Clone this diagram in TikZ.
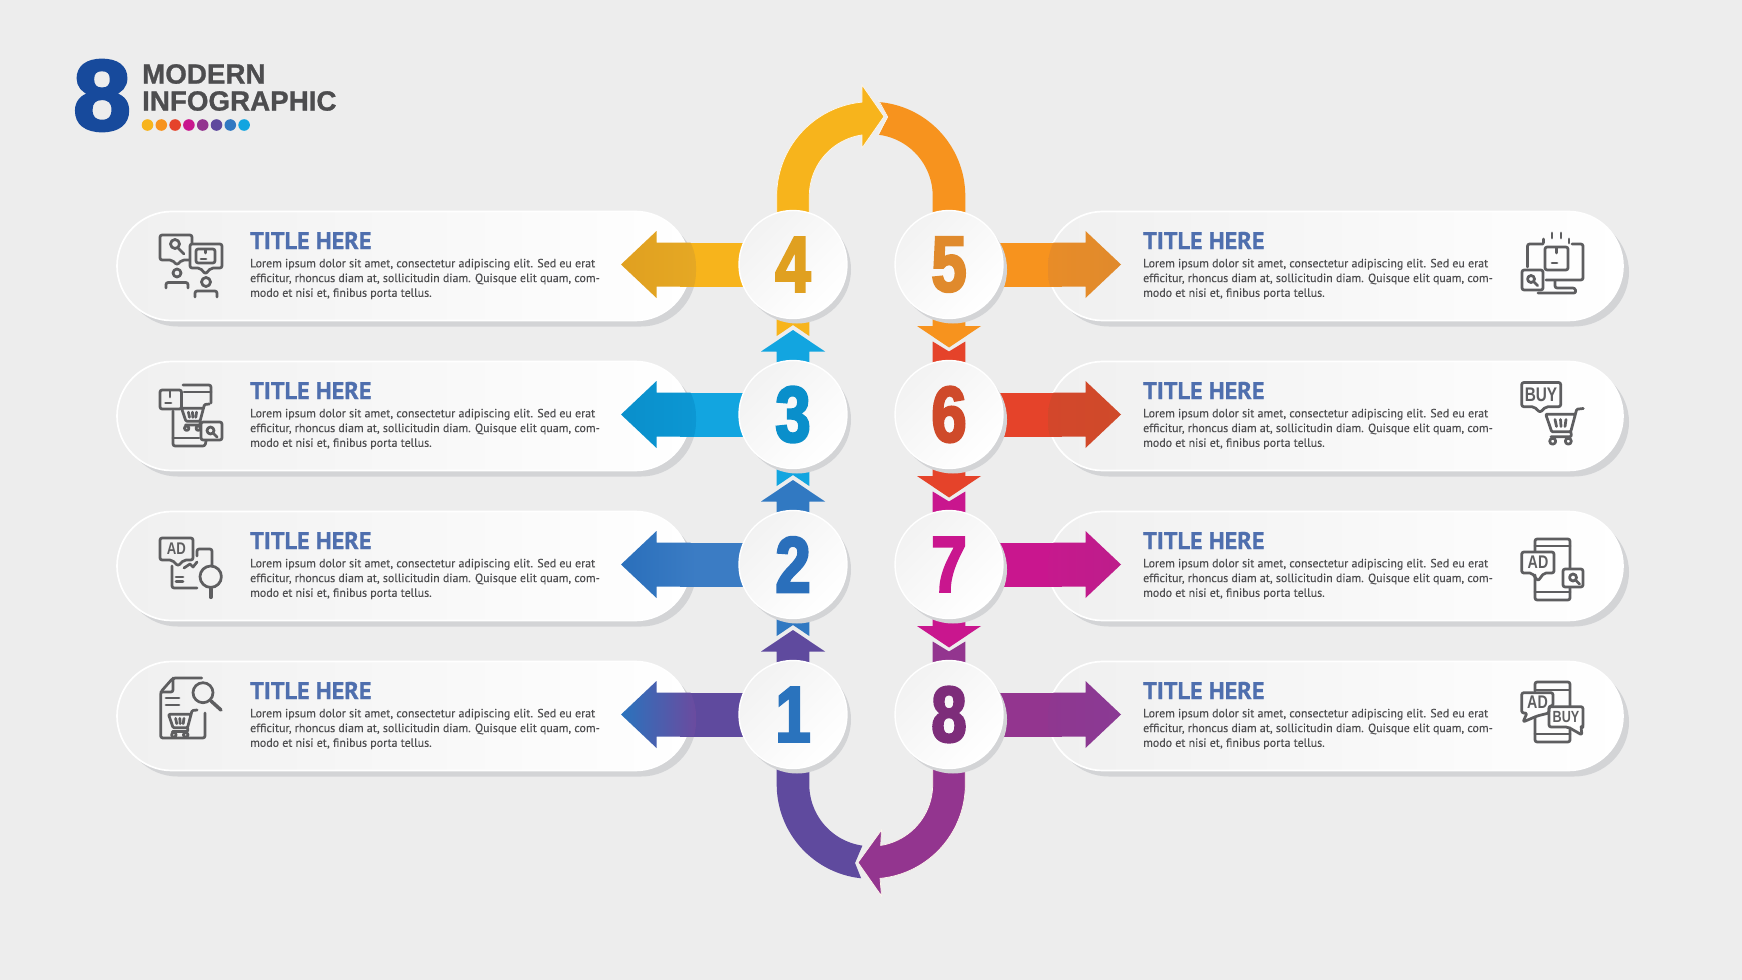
\documentclass[tikz,border=0pt]{standalone}
\usepackage{fontspec}
\setmainfont{PT Sans}[FakeBold=0.2]
\newfontfamily\titlefont[FakeBold=0.8]{PT Sans Bold}
\newfontfamily\logofont[FakeBold=1.0]{Liberation Sans Bold}
\newfontfamily\logoeightfont[FakeBold=3,FakeStretch=1.04]{Liberation Sans Bold}
\newfontfamily\numfont[FakeStretch=0.8,FakeBold=3.2]{Liberation Sans Bold}
\newfontfamily\icofont[FakeStretch=0.78]{Liberation Sans Bold}
\definecolor{cYel}{HTML}{F7B41C}
\definecolor{cOra}{HTML}{F7931E}
\definecolor{cRed}{HTML}{E5432A}
\definecolor{cMag}{HTML}{C9168E}
\definecolor{cPur}{HTML}{93358F}
\definecolor{cInd}{HTML}{5F4A9E}
\definecolor{cBlu}{HTML}{3179C2}
\definecolor{cCya}{HTML}{12A5E0}
\definecolor{cGray}{HTML}{5E5E60}
\definecolor{cShadow}{HTML}{D3D4D6}
\definecolor{cTitle}{HTML}{4F6FAE}
\definecolor{cBody}{HTML}{4D4D4F}
\definecolor{cLogo}{HTML}{174A9C}
\definecolor{cCream}{HTML}{FDF6EC}
\definecolor{tA}{HTML}{E0A020}\definecolor{iA}{HTML}{E5A824}
\definecolor{tB}{HTML}{0A8FCB}\definecolor{iB}{HTML}{0C97D3}
\definecolor{tC}{HTML}{2A6FBB}\definecolor{iC}{HTML}{3B7CC4}
\definecolor{tD}{HTML}{2A73BD}\definecolor{iD}{HTML}{6B4B9F}
\definecolor{tE}{HTML}{E08A2C}\definecolor{iE}{HTML}{E88C28}
\definecolor{tF}{HTML}{CF4A2A}\definecolor{iF}{HTML}{D3472B}
\definecolor{tG}{HTML}{BD1D8B}\definecolor{iG}{HTML}{C6198D}
\definecolor{tH}{HTML}{8A3A94}\definecolor{iH}{HTML}{8F3790}
\tikzset{
  ic/.style={draw=cGray,line width=3.9pt,line cap=round,line join=round,rounded corners=3pt},
  icnr/.style={draw=cGray,line width=3.9pt,line cap=round,line join=round},
  icotext/.style={text=cGray,inner sep=0pt,font=\icofont\fontsize{#1}{#1}\selectfont},
  cardtitle/.style={anchor=west,inner sep=0pt,text=cTitle,font=\titlefont\fontsize{34.5}{36}\selectfont},
  cardbody/.style={anchor=west,inner sep=0pt,align=left,text=cBody,font=\fontsize{17}{21}\selectfont},
  numcircle/.style={circle,minimum size=153.6pt,inner sep=0pt,draw=white,line width=2pt,
     top color=black!5!white,bottom color=white,shading angle=45,font=\numfont\fontsize{112}{112}\selectfont},
  outl/.style={draw=cCream,line width=2.2pt,line join=miter}
}
\newcommand\mycard[3]{% left x, right x, cy
  \fill[cShadow,rounded corners=78pt] (#1+6,#3-47) rectangle (#2+6,#3+62);
  \shadedraw[left color=black!6!white,right color=white,draw=white,line width=2.4pt,rounded corners=78pt]
     (#1,#3-53) rectangle (#2,#3+56);
}
\newcommand\leftarm[4]{% cy, shaft colour, tip colour, inner colour
  \fill[#2] (745,#1-22) -- (680,#1-22) -- (680,#1+22) -- (745,#1+22) -- cycle;
  \begin{scope}
    \clip[rounded corners=78pt] (116,#1-53) rectangle (696,#1+62);
    \shade[left color=#3,right color=#4] (696,#1-22) -- (656.5,#1-22) -- (656.5,#1-33.5) -- (621,#1) -- (656.5,#1+33.5) -- (656.5,#1+22) -- (696,#1+22) -- cycle;
  \end{scope}
}
\newcommand\rightarm[4]{%
  \fill[#2] (997,#1-22) -- (1062,#1-22) -- (1062,#1+22) -- (997,#1+22) -- cycle;
  \begin{scope}
    \clip[rounded corners=78pt] (1048,#1-53) rectangle (1630,#1+62);
    \shade[left color=#4,right color=#3] (1048,#1-22) -- (1085.5,#1-22) -- (1085.5,#1-33.5) -- (1121,#1) -- (1085.5,#1+33.5) -- (1085.5,#1+22) -- (1048,#1+22) -- cycle;
  \end{scope}
}
\newcommand\upstem[4]{%
  \fill[#3] (#1-16.3,#2+40) -- (#1-16.3,#2+71.5) -- (#1,#2+60.5) -- (#1+16.3,#2+71.5) -- (#1+16.3,#2+40) -- cycle;
  \fill[#4] (#1-16.3,#2+100) -- (#1-16.3,#2+87) -- (#1-32,#2+87) -- (#1,#2+65.5) -- (#1+32,#2+87) -- (#1+16.3,#2+87) -- (#1+16.3,#2+100) -- cycle;
}
\newcommand\downstem[4]{%
  \fill[#4] (#1-16.3,#2+110) -- (#1-16.3,#2+77) -- (#1,#2+87) -- (#1+16.3,#2+77) -- (#1+16.3,#2+110) -- cycle;
  \fill[#3] (#1-16.3,#2+40) -- (#1-16.3,#2+61.5) -- (#1-32,#2+61.5) -- (#1,#2+83) -- (#1+32,#2+61.5) -- (#1+16.3,#2+61.5) -- (#1+16.3,#2+40) -- cycle;
}
\newcommand\mycart[3]{% x y scale
  \begin{scope}[shift={(#1,#2)},scale=#3]
    \draw[ic,rounded corners=1.5pt] (38.3,0) -- (31.7,0.7) -- (25.7,23.3) -- (6.7,23.3) -- (0.7,5.7) -- (30,5.7);
    \draw[icnr] (10,11) -- (11.5,18) (15.5,11) -- (16,18) (21,11) -- (20,18);
    \draw[ic] (25.7,23.3) -- (26.7,28.3) -- (6,28.3);
    \draw[icnr] (7.7,32.7) circle[radius=3] (23.3,32.7) circle[radius=3];
  \end{scope}
}
\newcommand\mymag[3]{% x y r
  \draw[icnr] (#1,#2) circle[radius=#3] (#1+#3*0.72,#2+#3*0.72) -- (#1+#3*1.9,#2+#3*1.9);
}
\begin{document}
\begin{tikzpicture}[x=0.5mm,y=-0.5mm]
\useasboundingbox (0,0) rectangle (1742,980);
\fill[black!7!white] (0,0) rectangle (1742,980);

% logo
\node[anchor=west,inner sep=0pt,text=cLogo,font=\logoeightfont\fontsize{142}{142}\selectfont] (logoeight) at (73,95.5) {8};
\node[anchor=west,inner sep=0pt,text=cBody,font=\logofont\fontsize{39.5}{40}\selectfont] (logoa) at (142,74) {MODERN};
\node[anchor=west,inner sep=0pt,text=cBody,font=\logofont\fontsize{39.5}{40}\selectfont] (logob) at (142,101) {INFOGRAPHIC};
\foreach \i/\c in {0/cYel,1/cOra,2/cRed,3/cMag,4/cPur,5/cInd,6/cBlu,7/cCya}
  \fill[\c] (147.5+\i*13.8,125) circle[radius=5.8];

% cards
\foreach \cy in {264.5,414.5,564.5,714.5} {
  \mycard{117}{690}{\cy}
  \mycard{1048}{1623}{\cy}
  \node[cardtitle] at (250,\cy-24) {TITLE HERE};
  \node[cardbody] at (250,\cy+14.5) {Lorem ipsum dolor sit amet, consectetur adipiscing elit. Sed eu erat\\efficitur, rhoncus diam at, sollicitudin diam. Quisque elit quam, com-\\modo et nisi et, finibus porta tellus.};
  \node[cardtitle] at (1143,\cy-24) {TITLE HERE};
  \node[cardbody] at (1143,\cy+14.5) {Lorem ipsum dolor sit amet, consectetur adipiscing elit. Sed eu erat\\efficitur, rhoncus diam at, sollicitudin diam. Quisque elit quam, com-\\modo et nisi et, finibus porta tellus.};
}

% side arrows
\leftarm{264.5}{cYel}{tA}{iA}
\leftarm{414.5}{cCya}{tB}{iB}
\leftarm{564.5}{iC}{tC}{iC}
\leftarm{714.5}{cInd}{tD}{iD}
\rightarm{264.5}{cOra}{tE}{iE}
\rightarm{414.5}{cRed}{tF}{iF}
\rightarm{564.5}{cMag}{tG}{iG}
\rightarm{714.5}{cPur}{tH}{iH}

% top loop
\fill[cOra] (965.3,215) -- (965.3,196)
  -- plot[domain=0:85,samples=40] ({871+94.3*cos(\x)},{196-94.3*sin(\x)})
  -- (887.7,117)
  -- plot[domain=82.5:0,samples=40] ({871+61.7*cos(\x)},{196-61.7*sin(\x)})
  -- (932.7,215) -- cycle;
\draw[cCream,line width=1pt] (878.5,100) -- (887.7,117) -- (878.5,134);
\filldraw[fill=cYel,outl,line width=1pt] (776.7,215) -- (776.7,196)
  -- plot[domain=180:95.5,samples=40] ({871+94.3*cos(\x)},{196-94.3*sin(\x)})
  -- (862,85) -- (884,116.5) -- (862,148)
  -- plot[domain=98.4:180,samples=40] ({871+61.7*cos(\x)},{196-61.7*sin(\x)})
  -- (809.3,215) -- cycle;

% bottom loop
\fill[cInd] (776.7,760) -- (776.7,784.5)
  -- plot[domain=180:264,samples=40] ({871+94.3*cos(\x)},{784.5-94.3*sin(\x)})
  -- (855,863)
  -- plot[domain=262:180,samples=40] ({871+61.7*cos(\x)},{784.5-61.7*sin(\x)})
  -- (809.3,760) -- cycle;
\filldraw[fill=cPur,outl,line width=1pt] (965.3,760) -- (965.3,784.5)
  -- plot[domain=0:-84.5,samples=40] ({871+94.3*cos(\x)},{784.5-94.3*sin(\x)})
  -- (881.5,896) -- (858,862.5) -- (881.5,830)
  -- plot[domain=-81:0,samples=40] ({871+61.7*cos(\x)},{784.5-61.7*sin(\x)})
  -- (932.7,760) -- cycle;

% stems between circles
\upstem{793}{264.5}{cYel}{cCya}
\upstem{793}{414.5}{cCya}{cBlu}
\upstem{793}{564.5}{cBlu}{cInd}
\downstem{949}{264.5}{cOra}{cRed}
\downstem{949}{414.5}{cRed}{cMag}
\downstem{949}{564.5}{cMag}{cPur}

% numbered circles
\foreach \cx in {793,949} \foreach \cy in {264.5,414.5,564.5,714.5}
  \fill[cShadow] (\cx+4,\cy+5) circle[radius=54];
\node[numcircle,text=tD] (n1) at (793,714.5) {1};
\node[numcircle,text=tC] (n2) at (793,564.5) {2};
\node[numcircle,text=tB] (n3) at (793,414.5) {3};
\node[numcircle,text=tA] (n4) at (793,264.5) {4};
\node[numcircle,text=tE] (n5) at (949,264.5) {5};
\node[numcircle,text=tF] (n6) at (949,414.5) {6};
\node[numcircle,text=cMag] (n7) at (949,564.5) {7};
\node[numcircle,text=cPur!85!black] (n8) at (949,714.5) {8};

% icon: two speech bubbles and people
\draw[ic] (192,243) -- (192,235) -- (160,235) -- (160,260) -- (172,260) -- (177,265) -- (182,260) -- (189,260);
\draw[icnr] (175,244) circle[radius=4.5] (178,248) -- (184,254);
\draw[ic] (190,244) -- (222,244) -- (222,268) -- (211,268) -- (205.5,274) -- (200,268) -- (190,268) -- cycle;
\draw[ic] (196,249) rectangle (215,263);
\draw[icnr] (205.5,250) -- (205.5,253) (201,259) -- (206,259);
\draw[icnr] (177,273) circle[radius=4] (206,282) circle[radius=4.5];
\draw[ic] (166,288) -- (166,282.5) -- (188,282.5) -- (188,288);
\draw[ic] (195,297) -- (195,291) -- (217,291) -- (217,297);

% icon: box, tablet, cart, search
\draw[ic] (183,385) -- (211,385) -- (211,403);
\draw[icnr] (184,392) -- (211,392);
\draw[ic] (173,411) -- (173,446) -- (205,446) -- (206,441);
\draw[icnr] (173,438) -- (199,438);
\draw[ic] (160,390) rectangle (181.5,409);
\draw[icnr] (170,391) -- (170,397) (165.5,403) -- (171,403);
\mycart{181}{404}{0.74}
\draw[ic] (201,422) rectangle (222,440);
\mymag{210.5}{430.5}{3.5}

% icon: AD bubble, document, magnifier
\draw[ic] (160,538) -- (193,538) -- (193,560) -- (184,560) -- (178,566) -- (172,560) -- (160,560) -- cycle;
\node[icotext=24] (adone) at (176.5,549) {AD};
\draw[ic] (172,566) -- (172,588) -- (197,588);
\draw[ic] (197,556) -- (197,549) -- (212,549) -- (212,565);
\draw[icnr] (184,568) -- (190,564) -- (193,567) -- (197,562);
\draw[icnr] (176,577) -- (183,577) (176,581.5) -- (183,581.5);
\draw[icnr] (210.7,576.7) circle[radius=10.7];
\draw[line width=6pt,cGray,line cap=round] (210.7,589) -- (210.7,597);

% icon: document, cart, magnifier
\draw[ic] (201.7,678) -- (173,678) -- (160.7,692) -- (160.7,738) -- (205,738) -- (205,713);
\draw[ic] (173,678) -- (173,692) -- (160.7,692);
\draw[icnr] (203,692.7) circle[radius=10];
\draw[line width=5pt,cGray,line cap=round] (211,701) -- (221,710);
\draw[icnr] (166,698) -- (179,698) (166,705) -- (179,705);
\mycart{168}{710}{0.76}

% icon: monitor, box, search
\draw[ic] (1543,244) -- (1527.5,244) -- (1527.5,267);
\draw[ic] (1572,244) -- (1583,244) -- (1583,280) -- (1546,280);
\draw[ic] (1555,281) -- (1555,288) -- (1575,288) -- (1576,293) -- (1538,293);
\draw[ic] (1545,247) rectangle (1568,270);
\draw[icnr] (1556.5,248) -- (1556.5,253) (1552,263) -- (1557,263);
\draw[icnr] (1543.3,239) -- (1543.3,243) (1552,233) -- (1552,238) (1561,233) -- (1561,238) (1569,239) -- (1569,243);
\draw[ic] (1522,270) rectangle (1543,290);
\mymag{1531}{279}{3.5}

% icon: BUY bubble and cart
\draw[ic] (1521.7,382.5) -- (1560.7,382.5) -- (1560.7,406.7) -- (1546,406.7) -- (1540,412.5) -- (1534,406.7) -- (1521.7,406.7) -- cycle;
\node[icotext=28] (buyone) at (1541,394.5) {BUY};
\mycart{1545}{408.5}{1}

% icon: phone, AD bubble, search
\draw[ic] (1535,551) -- (1535,539) -- (1570,539) -- (1570,568);
\draw[icnr] (1535,546) -- (1570,546);
\draw[ic] (1535,575) -- (1535,600) -- (1570,600) -- (1570,588);
\draw[icnr] (1535,592) -- (1570,592);
\draw[ic] (1521.7,552) -- (1554,552) -- (1554,573) -- (1544,573) -- (1538,581) -- (1532,573) -- (1521.7,573) -- cycle;
\node[icotext=26] (adtwo) at (1538,562.5) {AD};
\draw[ic] (1563,569) rectangle (1583,587);
\mymag{1573}{577.5}{3.5}

% icon: phone, AD and BUY bubbles
\draw[ic] (1535,691) -- (1535,682) -- (1570,682) -- (1570,706);
\draw[icnr] (1536,690) -- (1569,690);
\draw[ic] (1535,717) -- (1535,742) -- (1570,742) -- (1570,728);
\draw[icnr] (1535,734) -- (1570,734);
\draw[ic] (1521.7,692.7) -- (1553,692.7) -- (1553,706) -- (1549,706) -- (1549,713) -- (1537,716) -- (1523,722) -- (1527,713) -- (1521.7,713) -- cycle;
\node[icotext=26] (adthree) at (1537.5,702.5) {AD};
\draw[ic] (1549,706.7) -- (1583,706.7) -- (1583,727) -- (1581,727) -- (1582,735) -- (1568,727) -- (1549,727) -- cycle;
\node[icotext=23] (buytwo) at (1566,717) {BUY};
\end{tikzpicture}
\end{document}
